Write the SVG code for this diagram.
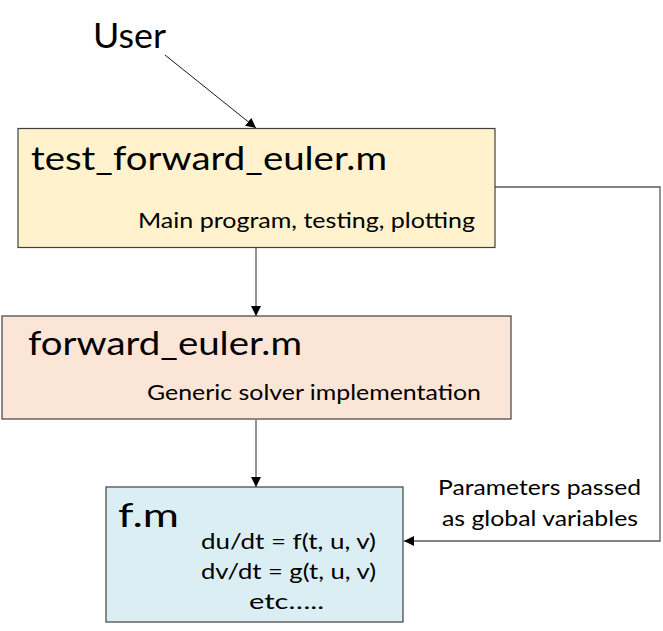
<svg xmlns="http://www.w3.org/2000/svg" width="663" height="631" viewBox="0 0 663 631">
<defs>
<marker id="ah" viewBox="0 0 10 10" refX="10" refY="5" markerWidth="10" markerHeight="10" markerUnits="userSpaceOnUse" orient="auto">
<path d="M0,0 L10,5 L0,10 z" fill="#000"/>
</marker>
<style>
.box{stroke:#404040;stroke-width:1.2}
.t{font-family:Lato,"Liberation Sans",sans-serif;fill:#000}
.big{font-size:33px}
.sm{font-size:22px}
.con{fill:none;stroke:#595959;stroke-width:1.3;marker-end:url(#ah)}
</style>
</defs>
<rect width="663" height="631" fill="#fff"/>
<g id="connectors">
<path class="con" d="M165,55 L256,128" style="stroke:#000;stroke-width:0.9"/>
<path class="con" d="M256,248 L256,316"/>
<path class="con" d="M256,420 L256,487"/>
<path class="con" d="M495,187 L660,187 L660,541 L404,541"/>
</g>
<g id="user"><text class="t" x="93" y="48" font-size="34" textLength="73" lengthAdjust="spacingAndGlyphs">User</text></g>
<g id="test_forward_euler">
<rect class="box" x="18" y="128.5" width="477" height="119" fill="#FFF2CC"/>
<text class="t big" x="31" y="170" textLength="356" lengthAdjust="spacingAndGlyphs">test_forward_euler.m</text>
<text class="t sm" x="138" y="228" textLength="337" lengthAdjust="spacingAndGlyphs">Main program, testing, plotting</text>
</g>
<g id="forward_euler">
<rect class="box" x="2" y="316" width="509" height="103" fill="#FBE5D6"/>
<text class="t big" x="28" y="355" textLength="274" lengthAdjust="spacingAndGlyphs">forward_euler.m</text>
<text class="t sm" x="147" y="400" textLength="334" lengthAdjust="spacingAndGlyphs">Generic solver implementation</text>
</g>
<g id="f">
<rect class="box" x="106" y="487" width="297" height="135" fill="#DAEEF3"/>
<text class="t big" x="118" y="527" textLength="61" lengthAdjust="spacingAndGlyphs">f.m</text>
<text class="t sm" x="201" y="549" textLength="175" lengthAdjust="spacingAndGlyphs">du/dt = f(t, u, v)</text>
<text class="t sm" x="201" y="579" textLength="175" lengthAdjust="spacingAndGlyphs">dv/dt = g(t, u, v)</text>
<text class="t sm" x="249" y="609" textLength="75" lengthAdjust="spacingAndGlyphs">etc…..</text>
</g>
<g id="params">
<text class="t sm" x="438" y="495" textLength="203" lengthAdjust="spacingAndGlyphs">Parameters passed</text>
<text class="t sm" x="442" y="526" textLength="196" lengthAdjust="spacingAndGlyphs">as global variables</text>
</g>
</svg>
